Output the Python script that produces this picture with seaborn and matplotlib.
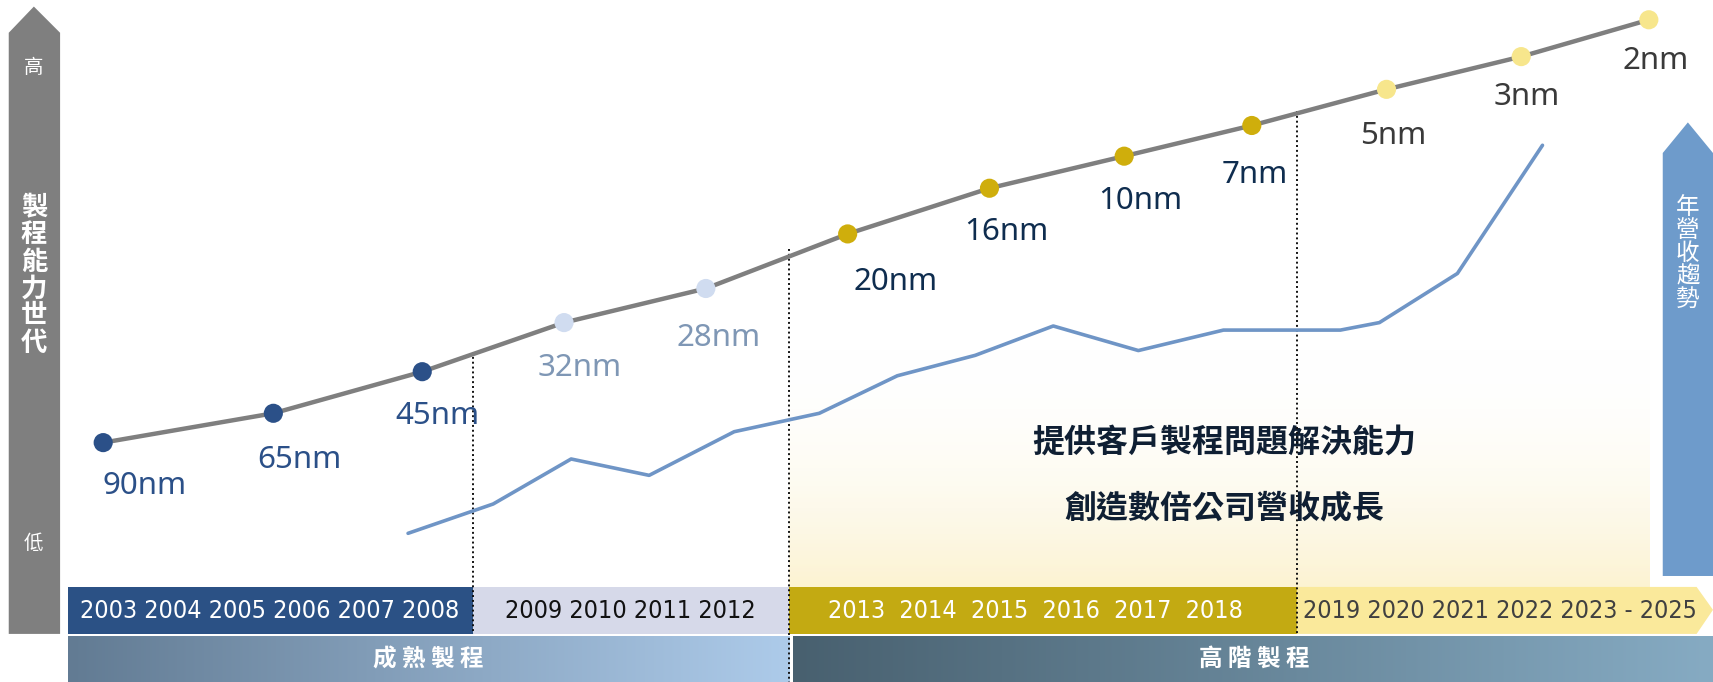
import numpy as np
import pandas as pd
import matplotlib
matplotlib.use("Agg")
import matplotlib.pyplot as plt
from matplotlib.patches import Polygon, Rectangle
from matplotlib.colors import to_rgba
import seaborn as sns

# process nodes: year of introduction and capability level (0-100)
nodes = ['90nm', '65nm', '45nm', '32nm', '28nm', '20nm', '16nm', '10nm', '7nm', '5nm', '3nm', '2nm']
node_year = [2003.5, 2005.9, 2008.0, 2010.0, 2012.0, 2014.0, 2016.0, 2017.9, 2019.7, 2021.6, 2023.5, 2025.3]
node_level = [35.1, 39.4, 45.5, 52.7, 57.7, 65.7, 72.4, 77.1, 81.6, 86.9, 91.7, 97.1]
node_group = ['g1'] * 3 + ['g2'] * 2 + ['g3'] * 4 + ['g4'] * 3

# revenue trend line
rev_year = [2007.8, 2009.0, 2010.1, 2011.2, 2012.4, 2013.6, 2014.7, 2015.8, 2016.9,
            2018.1, 2019.3, 2020.95, 2021.5, 2022.6, 2023.8]
rev_level = [21.8, 26.1, 32.7, 30.3, 36.7, 39.4, 44.9, 47.9, 52.2,
             48.6, 51.6, 51.6, 52.7, 59.9, 78.7]

# timeline labels
era_years = ['2003 2004 2005 2006 2007 2008', '2009 2010 2011 2012',
             '2013  2014  2015  2016  2017  2018', '2019 2020 2021 2022 2023 - 2025']
phase_labels = ['成 熟 製 程', '高 階 製 程']

marker_colors = {'g1': '#2B5088', 'g2': '#D0DCF0', 'g3': '#CFAE0C', 'g4': '#F7E68C'}
label_colors = {'g1': '#2B5088', 'g2': '#7F97B5', 'g3': '#0F2D4F', 'g4': '#3A3A3A'}
# label offsets from the dot (reference pixels, right / down)
label_offsets = [(38, 40), (24, 43), (14, 41), (14, 42), (12, 45), (44, 44),
                 (15, 40), (15, 41), (3, 45), (6, 43), (5, 37), (6, 38)]

sns.set_style('white')
CJK = ['Noto Sans CJK TC', 'DejaVu Sans']
plt.rcParams['font.family'] = CJK

W, H = 1568, 624
fig = plt.figure(figsize=(17.13, 6.82), dpi=100)

# background / decoration layer in reference pixel units
bg = fig.add_axes([0, 0, 1, 1])
bg.set_xlim(0, W)
bg.set_ylim(H, 0)
bg.axis('off')


def grad(ax, x0, x1, y0, y1, c0, c1, vertical=False, z=1):
    a, b = np.array(to_rgba(c0)), np.array(to_rgba(c1))
    t = np.linspace(0, 1, 256)[:, None]
    cols = a * (1 - t) + b * t
    img = cols[:, None, :] if vertical else cols[None, :, :]
    ax.imshow(img, extent=(x0, x1, y1, y0), aspect='auto', zorder=z,
              interpolation='bicubic')


# yellow fade area
grad(bg, 722, 1510, 320, 537, (1, 1, 1, 0), '#FCF3D2', vertical=True, z=0)

# left grey arrow
bg.add_patch(Polygon([(8, 30), (31, 6), (55, 30), (55, 580), (8, 580)],
                     closed=True, fc='#7F7F7F', ec='none', zorder=2))
bg.text(31, 62, '高', color='white', fontsize=14, ha='center', va='center', zorder=3)
bg.text(31, 497, '低', color='white', fontsize=14, ha='center', va='center', zorder=3)
bg.text(31, 252, '\n'.join('製程能力世代'), color='white', fontsize=19, fontweight='bold',
        ha='center', va='center', linespacing=1.0, zorder=3)

# right blue arrow
bg.add_patch(Polygon([(1522, 140), (1545, 112), (1568, 140), (1568, 527), (1522, 527)],
                     closed=True, fc='#6E9BCB', ec='none', zorder=2))
bg.text(1545, 232, '\n'.join('年營收趨勢'), color='white', fontsize=17,
        ha='center', va='center', linespacing=1.0, zorder=3)

# timeline row 1
bg.add_patch(Rectangle((62, 537), 371, 43, fc='#2B5185', ec='none', zorder=2))
bg.add_patch(Rectangle((433, 537), 289, 43, fc='#D6D9E9', ec='none', zorder=2))
bg.add_patch(Rectangle((722, 537), 465, 43, fc='#C3AA12', ec='none', zorder=2))
bg.add_patch(Polygon([(1187, 537), (1553, 537), (1568, 558), (1553, 580), (1187, 580)],
                     closed=True, fc='#FAE99B', ec='none', zorder=2))
for cx, txt, col in zip([247, 577, 948, 1373], era_years,
                        ['white', '#111111', 'white', '#404040']):
    bg.text(cx, 559, txt, color=col, fontsize=18, ha='center', va='center',
            family='DejaVu Sans', fontstretch='condensed', zorder=3)

# timeline row 2
grad(bg, 62, 722, 582, 624, '#627B93', '#ADCBEA', z=2)
grad(bg, 726, 1568, 582, 624, '#48606F', '#86ABC3', z=2)
bg.text(392, 603, phase_labels[0], color='white', fontsize=17, fontweight='bold',
        ha='center', va='center', zorder=3)
bg.text(1148, 603, phase_labels[1], color='white', fontsize=17, fontweight='bold',
        ha='center', va='center', zorder=3)

# dotted era separators
for x, top, bot in [(433, 322, 580), (722, 228, 624), (1187, 102, 580)]:
    bg.plot([x, x], [top, bot], ls=(0, (1, 1.5)), color='#111111', lw=1.4, zorder=4)

# centre text
bg.text(1121, 405, '提供客戶製程問題解決能力', color='#0F1F33', fontsize=23,
        fontweight='bold', ha='center', va='center', zorder=3)
bg.text(1121, 465, '創造數倍公司營收成長', color='#0F1F33', fontsize=23,
        fontweight='bold', ha='center', va='center', zorder=3)

# data layer
ax = fig.add_axes([0, 0, 1, 1])
ax.patch.set_alpha(0)
ax.set_xlim(2003 - 62 / 64.9, 2003 + (W - 62) / 64.9)
ax.set_ylim(0, 100)
ax.axis('off')

df_nodes = pd.DataFrame({'year': node_year, 'level': node_level,
                         'node': nodes, 'group': node_group})
df_rev = pd.DataFrame({'year': rev_year, 'level': rev_level})

sns.lineplot(data=df_rev, x='year', y='level', color='#6F95C6', lw=2.6, ax=ax,
             zorder=5, legend=False)
sns.lineplot(data=df_nodes, x='year', y='level', color='#7F7F7F', lw=3.2, ax=ax,
             zorder=6, legend=False, sort=False)
sns.scatterplot(data=df_nodes, x='year', y='level', hue='group', palette=marker_colors,
                s=190, linewidth=0, ax=ax, zorder=7, legend=False)

px2pt = 1.0925 * 72 / 100
for r, (dx, dy) in zip(df_nodes.itertuples(), label_offsets):
    ax.annotate(r.node, (r.year, r.level), xytext=(dx * px2pt, -dy * px2pt),
                textcoords='offset points', ha='center', va='center',
                fontsize=22.5, color=label_colors[r.group],
                family=['Noto Sans', 'DejaVu Sans'], zorder=8)

fig.savefig('out.png', dpi=100)
